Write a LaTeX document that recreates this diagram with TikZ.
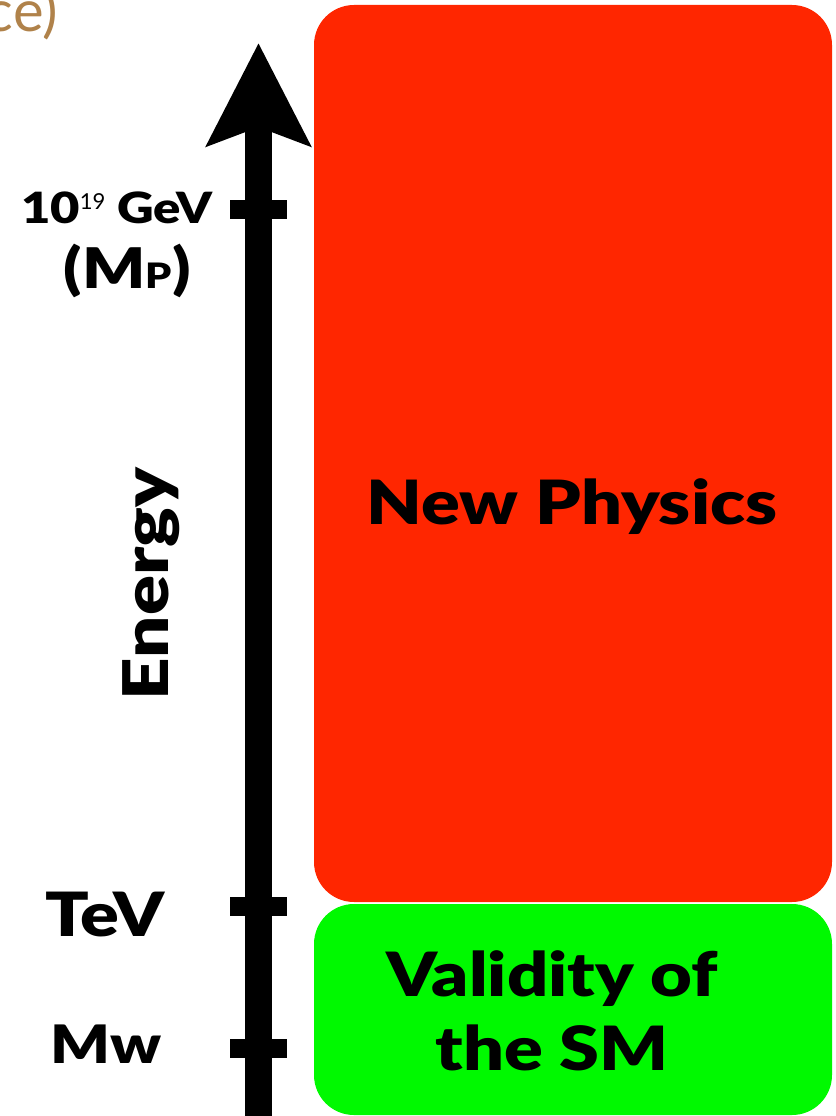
\documentclass[tikz,border=0pt]{standalone}
\usepackage{fontspec}
\setmainfont{Lato}[BoldFont={Lato Black}, BoldFeatures={FakeStretch=1.18}]
\usepackage{tikz}
\usetikzlibrary{arrows.meta,positioning}

\definecolor{npred}{RGB}{255,38,0}
\definecolor{smgreen}{RGB}{0,249,0}
\definecolor{titlebrown}{RGB}{176,130,74}

\begin{document}
\begin{tikzpicture}[x=1pt, y=-1pt,
    axis/.style={line width=27pt, -{Stealth[length=102pt, width=102pt, inset=18pt]}},
    tickmark/.style={line width=19pt},
    region/.style={rounded corners=40pt, inner sep=0pt, minimum width=518pt},
    big/.style={font=\bfseries\fontsize{61}{74}\selectfont, inner sep=0pt},
    scalelabel/.style={anchor=base east, inner sep=0pt},
]
\useasboundingbox (0,0) rectangle (835,1116);

% title left over from the slide
\node[anchor=base east, inner sep=0pt, text=titlebrown, font=\fontsize{58}{60}\selectfont] (title) at (58,32) {ce)};

% the two regions
\node[region, fill=npred, minimum height=897pt] (np) at (573,453.5) {};
\node[region, fill=smgreen, minimum height=211pt] (sm) at (573,1009.5) {};
\node[big, anchor=base] (nptext) at (572,524) {New Physics};
\node[big, anchor=base, align=center] (smtext) at (552,1070) {Validity of\\the SM};

% energy axis
\coordinate (axbot) at (258.5,1116);
\coordinate (axtop) at (258.5,43);
\draw[axis] (axbot) -- (axtop);
\foreach \name/\ty in {planck/209, tev/906, mw/1048}{
    \coordinate (\name L) at (230,\ty);
    \coordinate (\name R) at (287,\ty);
    \draw[tickmark] (\name L) -- (\name R);
}
\node[big, rotate=90, anchor=base, font=\bfseries\fontsize{63}{66}\selectfont] (energy) at (168,584) {Energy};

% scale labels
\node[scalelabel, font=\bfseries\fontsize{43}{44}\selectfont] (planck) at (213,223)
    {10\raisebox{14pt}{\mdseries\fontsize{22}{22}\selectfont 19} GeV};
\node[scalelabel, font=\bfseries\fontsize{56}{58}\selectfont] (mplanck) at (191,288)
    {(M{\fontsize{35}{35}\selectfont P})};
\node[scalelabel, font=\bfseries\fontsize{61}{66}\selectfont] (tev) at (165,936) {TeV};
\node[scalelabel, font=\bfseries\fontsize{53}{58}\selectfont] (mw) at (162,1063) {Mw};
\end{tikzpicture}
\end{document}
